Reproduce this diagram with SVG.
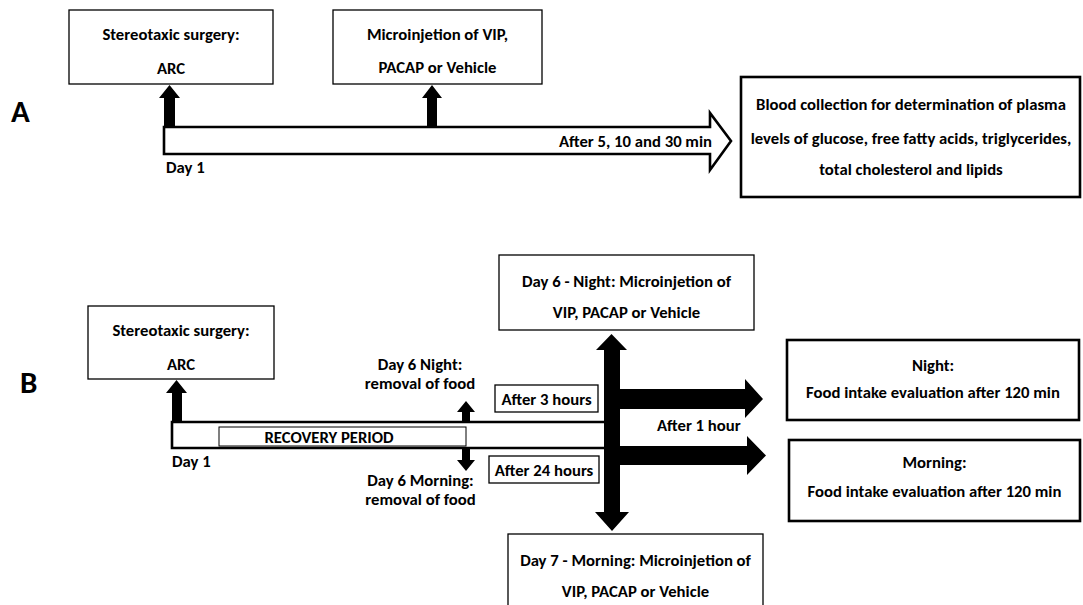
<svg xmlns="http://www.w3.org/2000/svg" width="1083" height="605" viewBox="0 0 1083 605">
<style>
text{font-family:Carlito,Lato,"Liberation Sans",sans-serif;font-weight:bold;font-size:16.7px;fill:#000}
.c{text-anchor:middle}
.big{font-size:31px}
.thin{fill:#fff;stroke:#000;stroke-width:1.3}
.thick{fill:#fff;stroke:#000;stroke-width:2.6}
.solid{fill:#000;stroke:none}
</style>
<rect width="1083" height="605" fill="#fff"/>

<!-- Panel A -->
<text class="big" x="11" y="122">A</text>
<g id="connectorsA">
  <polygon class="thick" points="164,127 710,127 710,113 731,141 710,170 710,154 164,154"/>
  <polygon class="solid" points="164,127 164,98 159,98 169.5,85 180,98 175,98 175,127"/>
  <polygon class="solid" points="427,127 427,98 422,98 432,85 442,98 437,98 437,127"/>
</g>
<g id="A_surgery">
  <rect class="thin" x="69" y="10" width="204" height="74"/>
  <text class="c" x="171" y="40">Stereotaxic surgery:</text>
  <text class="c" x="171" y="74">ARC</text>
</g>
<g id="A_injection">
  <rect class="thin" x="333" y="10" width="209" height="74"/>
  <text class="c" x="437.5" y="40">Microinjetion of VIP,</text>
  <text class="c" x="437.5" y="73">PACAP or Vehicle</text>
</g>
<g id="A_blood">
  <rect class="thick" x="741" y="77" width="339" height="120"/>
  <text class="c" x="911" y="110">Blood collection for determination of plasma</text>
  <text class="c" x="911" y="144">levels of glucose, free fatty acids, triglycerides,</text>
  <text class="c" x="911" y="175">total cholesterol and lipids</text>
</g>
<text x="712" y="147" text-anchor="end">After 5, 10 and 30 min</text>
<text x="166" y="173">Day 1</text>

<!-- Panel B -->
<text class="big" x="20" y="393">B</text>
<g id="connectorsB">
  <path d="M604,422 L172,422 L172,448 L604,448" fill="#fff" stroke="#000" stroke-width="2.6"/>
  <rect x="219" y="427" width="247" height="19" fill="#fff" stroke="#000" stroke-width="1"/>
  <polygon class="solid" points="172,422 172,393 166,393 176.5,380 187,393 182,393 182,422"/>
  <polygon class="solid" points="462,423 462,412 457,412 466,401 475,412 470,412 470,423"/>
  <polygon class="solid" points="462,447 462,460 457,460 466,471 475,460 470,460 470,447"/>
  <polygon class="solid" points="604,350 596,350 611.5,334 627,350 620,350 620,512 629,512 612,531 595,512 604,512"/>
  <polygon class="solid" points="619,389 745,389 745,379 763,399 745,418 745,409 619,409"/>
  <polygon class="solid" points="619,446 747,446 747,436 766,455.5 747,475 747,465 619,465"/>
</g>
<text class="c" x="329" y="443">RECOVERY PERIOD</text>
<text x="172" y="467">Day 1</text>
<g id="B_surgery">
  <rect class="thin" x="88" y="306" width="186" height="73"/>
  <text class="c" x="181" y="336">Stereotaxic surgery:</text>
  <text class="c" x="181" y="370">ARC</text>
</g>
<text class="c" x="420" y="370">Day 6 Night:</text>
<text class="c" x="420" y="389">removal of food</text>
<text class="c" x="420.5" y="486">Day 6 Morning:</text>
<text class="c" x="420.5" y="505">removal of food</text>
<g id="B_after3">
  <rect class="thin" x="495" y="385" width="103" height="27"/>
  <text class="c" x="546.5" y="405">After 3 hours</text>
</g>
<g id="B_after24">
  <rect class="thin" x="489" y="456" width="110" height="27"/>
  <text class="c" x="544" y="476">After 24 hours</text>
</g>
<text x="657" y="431">After 1 hour</text>
<g id="B_day6">
  <rect class="thin" x="499" y="255" width="255" height="75"/>
  <text class="c" x="626.5" y="287">Day 6 - Night:  Microinjetion of</text>
  <text class="c" x="626.5" y="318">VIP, PACAP or Vehicle</text>
</g>
<g id="B_day7">
  <rect class="thin" x="508" y="534" width="255" height="80"/>
  <text class="c" x="635.5" y="566">Day 7 - Morning:  Microinjetion of</text>
  <text class="c" x="635.5" y="597">VIP, PACAP or Vehicle</text>
</g>
<g id="B_night">
  <rect class="thick" x="787" y="340" width="292" height="80"/>
  <text class="c" x="933" y="371">Night:</text>
  <text class="c" x="933" y="398">Food intake evaluation after 120 min</text>
</g>
<g id="B_morning">
  <rect class="thick" x="789" y="440" width="291" height="81"/>
  <text class="c" x="934.5" y="468">Morning:</text>
  <text class="c" x="934.5" y="497">Food intake evaluation after 120 min</text>
</g>
</svg>
